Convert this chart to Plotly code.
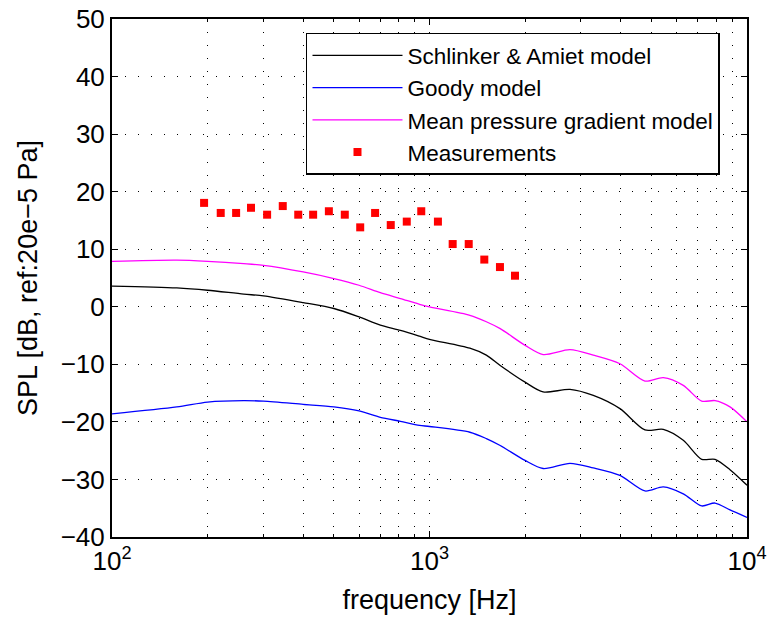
import plotly.graph_objects as go

# model frequencies [Hz]
freq_model = [100, 160, 200, 260, 300, 400, 500, 600, 700, 810, 930, 1000, 1340, 1510,
              1670, 2000, 2280, 2770, 3280, 3980, 4770, 5450, 6300, 7200, 7930, 8840, 10000]
schlinker_amiet = [3.6, 3.27, 2.87, 2.2, 1.9, 0.73, -0.3, -1.77, -3.2, -4.1, -5.1, -5.65, -7.2, -8.4,
                   -10.2, -13.1, -14.8, -14.35, -15.4, -17.7, -21.4, -21.3, -23.2, -26.5, -26.5, -28.3, -31.0]
goody = [-18.6, -17.4, -16.55, -16.3, -16.4, -16.96, -17.4, -18.1, -19.2, -19.9, -20.6, -20.8, -21.8, -22.9,
         -24.1, -26.7, -28.1, -27.2, -28.0, -29.3, -32.0, -31.3, -32.5, -34.6, -34.1, -35.3, -36.6]
mean_pressure_gradient = [7.9, 8.1, 7.9, 7.5, 7.2, 6.05, 4.9, 3.74, 2.46, 1.43, 0.43, -0.03, -1.48, -2.6,
                          -3.8, -6.7, -8.3, -7.45, -8.4, -9.9, -12.9, -12.3, -13.65, -16.4, -16.3, -17.4, -20.0]

# measurements
freq_meas = [195, 220, 246, 274, 308, 345, 386, 430, 482, 541, 605, 674, 755, 848, 942,
             1063, 1183, 1329, 1488, 1667, 1859]
spl_meas = [18.05, 16.3, 16.3, 17.2, 16.0, 17.5, 16.0, 16.0, 16.6, 16.0, 13.8, 16.3, 14.2, 14.8, 16.6,
            14.8, 10.9, 10.9, 8.2, 6.9, 5.4]

x_tickvals = [100, 1000, 10000]
x_ticktext = ["10<sup>2</sup>", "10<sup>3</sup>", "10<sup>4</sup>"]
x_minor = [m * d for d in (100, 1000) for m in range(2, 10)]
y_tickvals = list(range(-40, 51, 10))

fig = go.Figure()
fig.add_trace(go.Scatter(x=freq_model, y=schlinker_amiet, mode="lines", name="Schlinker & Amiet model",
                         line=dict(color="black", width=1.3, shape="spline", smoothing=0.8)))
fig.add_trace(go.Scatter(x=freq_model, y=goody, mode="lines", name="Goody model",
                         line=dict(color="#0000ff", width=1.3, shape="spline", smoothing=0.8)))
fig.add_trace(go.Scatter(x=freq_model, y=mean_pressure_gradient, mode="lines", name="Mean pressure gradient model",
                         line=dict(color="#ff00ff", width=1.3, shape="spline", smoothing=0.8)))
fig.add_trace(go.Scatter(x=freq_meas, y=spl_meas, mode="markers", name="Measurements",
                         marker=dict(symbol="square", size=8, color="#ff0000", line=dict(width=0))))

font_family = "Liberation Sans, Arial, sans-serif"
grid_dash = "1px,12px"

fig.update_layout(
    width=769, height=623, autosize=False,
    margin=dict(l=112, r=22, t=19, b=86),
    paper_bgcolor="white", plot_bgcolor="white",
    font=dict(family=font_family, color="black", size=26),
    showlegend=True,
    legend=dict(x=0.3055, y=0.9735, xanchor="left", yanchor="top",
                bgcolor="white", bordercolor="black", borderwidth=1.5,
                font=dict(size=22.5, family=font_family), itemwidth=90,
                tracegroupgap=0),
    xaxis=dict(type="log", range=[2, 4], tickmode="array", tickvals=x_tickvals, ticktext=x_ticktext,
               automargin=False, ticklabeloverflow="allow",
               ticks="inside", ticklen=6, tickcolor="black", showline=True, linewidth=2, linecolor="black",
               mirror="allticks", showgrid=True, gridcolor="black", gridwidth=1, griddash=grid_dash,
               zeroline=False, tickfont=dict(size=26),
               title=dict(text="frequency [Hz]", font=dict(size=27)),
               minor=dict(tickmode="array", tickvals=x_minor, ticks="inside", ticklen=3, tickcolor="black",
                          showgrid=True, gridcolor="black", gridwidth=1, griddash=grid_dash)),
    yaxis=dict(range=[-40, 50], tickmode="array", tickvals=y_tickvals,
               automargin=False, ticklabeloverflow="allow",
               ticks="inside", ticklen=6, tickcolor="black", showline=True, linewidth=2, linecolor="black",
               mirror="allticks", showgrid=True, gridcolor="black", gridwidth=1, griddash=grid_dash,
               zeroline=False, tickfont=dict(size=26),
               title=dict(text="SPL [dB, ref:20e−5 Pa]", font=dict(size=27))),
)

# remove the default page margin so the figure sits at the window's top-left corner
fig.write_html("out.html", config={"displayModeBar": False},
               post_script="document.body.style.margin='0';")
